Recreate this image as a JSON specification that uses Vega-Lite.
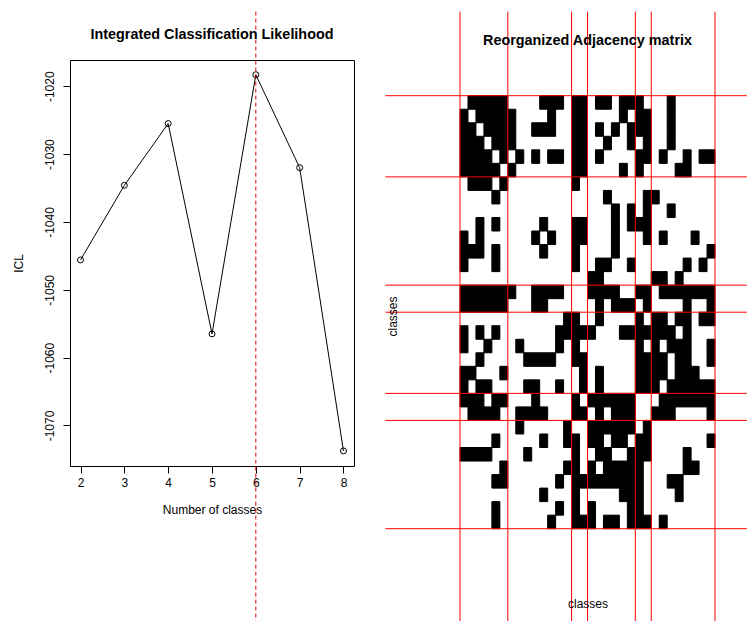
{
  "$schema": "https://vega.github.io/schema/vega-lite/v6.json",
  "padding": {"left": 11, "top": 10, "right": 0, "bottom": 0},
  "spacing": 29,
  "config": {
    "font": "Liberation Sans",
    "axis": {"labelColor": "black", "titleColor": "black", "tickColor": "black", "grid": false, "titleFontWeight": "normal", "labelFont": "Liberation Sans", "titleFont": "Liberation Sans"}
  },
  "datasets": {
    "icl": [
      {"k": 2, "icl": -1045.6}, {"k": 3, "icl": -1034.6}, {"k": 4, "icl": -1025.5},
      {"k": 5, "icl": -1056.5}, {"k": 6, "icl": -1018.3}, {"k": 7, "icl": -1032.0},
      {"k": 8, "icl": -1073.75}
    ],
    "best": [{"k": 6}],
    "bounds": [{"b": 0}, {"b": 6}, {"b": 14}, {"b": 16}, {"b": 22}, {"b": 24}, {"b": 32}],
    "edges": [
      {"i":0,"j":1},{"i":0,"j":2},{"i":0,"j":3},{"i":0,"j":4},{"i":0,"j":5},{"i":0,"j":10},{"i":0,"j":11},{"i":0,"j":12},{"i":0,"j":14},{"i":0,"j":15},{"i":0,"j":17},{"i":0,"j":18},{"i":0,"j":20},{"i":0,"j":21},{"i":0,"j":22},{"i":0,"j":26},
      {"i":1,"j":2},{"i":1,"j":3},{"i":1,"j":4},{"i":1,"j":5},{"i":1,"j":6},{"i":1,"j":11},{"i":1,"j":14},{"i":1,"j":15},{"i":1,"j":20},{"i":1,"j":22},{"i":1,"j":23},{"i":1,"j":26},
      {"i":2,"j":3},{"i":2,"j":4},{"i":2,"j":5},{"i":2,"j":6},{"i":2,"j":9},{"i":2,"j":10},{"i":2,"j":11},{"i":2,"j":14},{"i":2,"j":15},{"i":2,"j":17},{"i":2,"j":19},{"i":2,"j":21},{"i":2,"j":22},{"i":2,"j":23},{"i":2,"j":26},
      {"i":3,"j":4},{"i":3,"j":5},{"i":3,"j":6},{"i":3,"j":14},{"i":3,"j":15},{"i":3,"j":18},{"i":3,"j":21},{"i":3,"j":23},{"i":3,"j":26},
      {"i":4,"j":5},{"i":4,"j":7},{"i":4,"j":9},{"i":4,"j":11},{"i":4,"j":12},{"i":4,"j":14},{"i":4,"j":15},{"i":4,"j":17},{"i":4,"j":22},{"i":4,"j":23},{"i":4,"j":25},{"i":4,"j":28},{"i":4,"j":30},{"i":4,"j":31},
      {"i":5,"j":6},{"i":5,"j":14},{"i":5,"j":15},{"i":5,"j":20},{"i":5,"j":22},{"i":5,"j":27},{"i":5,"j":28},
      {"i":6,"j":14},
      {"i":7,"j":18},{"i":7,"j":23},{"i":7,"j":24},
      {"i":8,"j":19},{"i":8,"j":21},{"i":8,"j":23},{"i":8,"j":26},
      {"i":9,"j":10},{"i":9,"j":14},{"i":9,"j":15},{"i":9,"j":19},{"i":9,"j":21},{"i":9,"j":22},{"i":9,"j":23},
      {"i":10,"j":11},{"i":10,"j":14},{"i":10,"j":15},{"i":10,"j":19},{"i":10,"j":23},{"i":10,"j":25},{"i":10,"j":29},
      {"i":11,"j":14},{"i":11,"j":19},{"i":11,"j":31},
      {"i":12,"j":14},{"i":12,"j":17},{"i":12,"j":18},{"i":12,"j":21},{"i":12,"j":28},{"i":12,"j":30},
      {"i":13,"j":16},{"i":13,"j":17},{"i":13,"j":24},{"i":13,"j":25},{"i":13,"j":27},
      {"i":14,"j":16},{"i":14,"j":17},{"i":14,"j":18},{"i":14,"j":19},{"i":14,"j":22},{"i":14,"j":23},{"i":14,"j":25},{"i":14,"j":26},{"i":14,"j":27},{"i":14,"j":28},{"i":14,"j":29},{"i":14,"j":30},{"i":14,"j":31},
      {"i":15,"j":17},{"i":15,"j":19},{"i":15,"j":20},{"i":15,"j":21},{"i":15,"j":23},{"i":15,"j":28},{"i":15,"j":31},
      {"i":16,"j":17},{"i":16,"j":22},{"i":16,"j":24},{"i":16,"j":25},{"i":16,"j":27},{"i":16,"j":28},{"i":16,"j":30},{"i":16,"j":31},
      {"i":17,"j":20},{"i":17,"j":21},{"i":17,"j":22},{"i":17,"j":23},{"i":17,"j":24},{"i":17,"j":25},{"i":17,"j":26},{"i":17,"j":28},
      {"i":18,"j":22},{"i":18,"j":24},{"i":18,"j":26},{"i":18,"j":27},{"i":18,"j":28},{"i":18,"j":31},
      {"i":19,"j":22},{"i":19,"j":23},{"i":19,"j":24},{"i":19,"j":25},{"i":19,"j":27},{"i":19,"j":28},{"i":19,"j":31},
      {"i":20,"j":22},{"i":20,"j":23},{"i":20,"j":24},{"i":20,"j":25},{"i":20,"j":27},{"i":20,"j":28},{"i":20,"j":29},
      {"i":21,"j":22},{"i":21,"j":23},{"i":21,"j":24},{"i":21,"j":26},{"i":21,"j":27},{"i":21,"j":28},{"i":21,"j":29},{"i":21,"j":30},{"i":21,"j":31},
      {"i":22,"j":25},{"i":22,"j":26},{"i":22,"j":27},{"i":22,"j":28},{"i":22,"j":29},{"i":22,"j":30},{"i":22,"j":31},
      {"i":23,"j":24},{"i":23,"j":25},{"i":23,"j":26},{"i":23,"j":31},
      {"i":25,"j":31},{"i":26,"j":28},{"i":27,"j":28},{"i":27,"j":29}
    ]
  },
  "hconcat": [
    {
      "width": 284,
      "height": 406,
      "view": {"stroke": "black", "strokeWidth": 1},
      "title": {"text": "Integrated Classification Likelihood", "fontSize": 14.4, "fontWeight": "bold", "font": "Liberation Sans", "color": "black", "frame": "group", "anchor": "middle", "baseline": "alphabetic", "offset": -42.7},
      "layer": [
        {
          "data": {"name": "icl"},
          "mark": {"type": "line", "color": "black", "strokeWidth": 1},
          "encoding": {
            "x": {"field": "k", "type": "quantitative", "scale": {"domain": [1.76, 8.24], "nice": false, "zero": false},
                  "axis": {"values": [2, 3, 4, 5, 6, 7, 8], "title": "Number of classes", "domain": false, "tickSize": 7, "labelFontSize": 12, "labelPadding": 4, "titleFontSize": 12, "titlePadding": 16.7, "labelFlush": false}},
            "y": {"field": "icl", "type": "quantitative", "scale": {"domain": [-1075.97, -1016.13], "nice": false, "zero": false},
                  "axis": {"values": [-1070, -1060, -1050, -1040, -1030, -1020], "title": "ICL", "domain": false, "tickSize": 7, "labelAngle": -90, "labelAlign": "center", "labelBaseline": "bottom", "labelPadding": 6.5, "labelFontSize": 12, "labelExpr": "'-' + abs(datum.value)", "titleFontSize": 12, "titlePadding": 18.5, "labelFlush": false}}
          }
        },
        {
          "data": {"name": "icl"},
          "mark": {"type": "point", "shape": "circle", "filled": false, "color": "black", "size": 36, "strokeWidth": 1, "opacity": 1},
          "encoding": {
            "x": {"field": "k", "type": "quantitative"},
            "y": {"field": "icl", "type": "quantitative"}
          }
        },
        {
          "data": {"name": "best"},
          "mark": {"type": "rule", "color": "#e00000", "strokeWidth": 1, "strokeDash": [4, 3]},
          "encoding": {
            "x": {"field": "k", "type": "quantitative"},
            "y": {"datum": -1009.0, "type": "quantitative"},
            "y2": {"datum": -1098.9}
          }
        }
      ]
    },
    {
      "width": 255,
      "height": 468.7,
      "view": {"stroke": null},
      "title": {"text": "Reorganized Adjacency matrix", "fontSize": 14.4, "fontWeight": "bold", "font": "Liberation Sans", "color": "black", "frame": "group", "anchor": "middle", "baseline": "alphabetic", "offset": -48},
      "layer": [
        {
          "data": {"name": "edges"},
          "mark": {"type": "rect", "color": "black", "stroke": "black", "strokeWidth": 1},
          "encoding": {
            "x": {"field": "j", "type": "ordinal", "scale": {"domain": [0,1,2,3,4,5,6,7,8,9,10,11,12,13,14,15,16,17,18,19,20,21,22,23,24,25,26,27,28,29,30,31], "paddingInner": 0, "paddingOuter": 0},
                  "axis": {"title": "classes", "labels": false, "ticks": false, "domain": false, "titleFontSize": 12, "titlePadding": 70}},
            "y": {"field": "i", "type": "ordinal", "scale": {"domain": [0,1,2,3,4,5,6,7,8,9,10,11,12,13,14,15,16,17,18,19,20,21,22,23,24,25,26,27,28,29,30,31], "paddingInner": 0, "paddingOuter": 0, "range": [35.7, 468.7]},
                  "axis": {"title": "classes", "labels": false, "ticks": false, "domain": false, "titleFontSize": 12, "titlePadding": 61, "titleY": 256}}
          }
        },
        {
          "data": {"name": "edges"},
          "mark": {"type": "rect", "color": "black", "stroke": "black", "strokeWidth": 1},
          "encoding": {
            "x": {"field": "i", "type": "ordinal", "scale": {"domain": [0,1,2,3,4,5,6,7,8,9,10,11,12,13,14,15,16,17,18,19,20,21,22,23,24,25,26,27,28,29,30,31], "paddingInner": 0, "paddingOuter": 0}, "axis": null},
            "y": {"field": "j", "type": "ordinal", "scale": {"domain": [0,1,2,3,4,5,6,7,8,9,10,11,12,13,14,15,16,17,18,19,20,21,22,23,24,25,26,27,28,29,30,31], "paddingInner": 0, "paddingOuter": 0, "range": [35.7, 468.7]}, "axis": null}
          }
        },
        {
          "data": {"name": "bounds"},
          "mark": {"type": "rule", "color": "#ff0000", "strokeWidth": 1},
          "encoding": {
            "x": {"field": "b", "type": "quantitative", "scale": {"domain": [0, 32], "nice": false, "zero": false}, "axis": null},
            "y": {"datum": -6.21, "type": "quantitative", "scale": {"domain": [0, 32], "nice": false, "zero": false, "range": [35.7, 468.7]}, "axis": null},
            "y2": {"datum": 38.88}
          }
        },
        {
          "data": {"name": "bounds"},
          "mark": {"type": "rule", "color": "#ff0000", "strokeWidth": 1},
          "encoding": {
            "y": {"field": "b", "type": "quantitative", "scale": {"domain": [0, 32], "nice": false, "zero": false, "range": [35.7, 468.7]}, "axis": null},
            "x": {"datum": -9.37, "type": "quantitative", "scale": {"domain": [0, 32], "nice": false, "zero": false}, "axis": null},
            "x2": {"datum": 36.0}
          }
        }
      ],
      "resolve": {"scale": {"x": "independent", "y": "independent"}, "axis": {"x": "independent", "y": "independent"}}
    }
  ]
}
